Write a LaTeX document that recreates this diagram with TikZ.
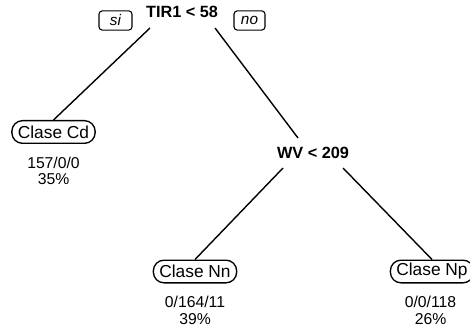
\documentclass[tikz,border=0pt]{standalone}
\usepackage{fontspec}
\setmainfont{Liberation Sans}
\begin{document}
\begin{tikzpicture}[x=0.75pt,y=-0.75pt,
  split/.style={font=\fontsize{12.2}{13}\selectfont\bfseries, inner sep=0pt},
  tag/.style={draw, line width=0.8pt, rounded corners=2.5pt, font=\fontsize{11.5}{12}\selectfont\itshape, minimum height=14.5pt, inner sep=0pt},
  leaf/.style={draw, line width=1pt, rounded corners=8pt, font=\fontsize{13}{14}\selectfont, minimum height=17pt, inner xsep=4.5pt, inner ysep=0pt},
  count/.style={font=\fontsize{11.8}{12.4}\selectfont, align=center, inner sep=0pt},
  edge/.style={line width=1.05pt}]
\useasboundingbox (0,0) rectangle (470,327);
\node[split] (root) at (182,12) {TIR1 < 58};
\node[tag, minimum width=24.75pt] (si) at (115.5,20.5) {si};
\node[tag, minimum width=23.25pt] (no) at (249.5,20.5) {no};
\node[leaf] (cd) at (53.5,132) {Clase Cd};
\node[count] (cdn) at (53.5,171) {157/0/0\\35\%};
\node[split] (wv) at (313,153) {WV < 209};
\node[leaf] (nn) at (195,271.5) {Clase Nn};
\node[count] (nnn) at (195,310.5) {0/164/11\\39\%};
\node[leaf] (np) at (432,271.5) {Clase Np};
\node[count] (npn) at (430.5,310.5) {0/0/118\\26\%};
\coordinate (r1) at (150,28);
\coordinate (r2) at (215,28);
\coordinate (wtop) at (298,138);
\coordinate (w1) at (283,168);
\coordinate (w2) at (343,168);
\draw[edge] (r1) -- (cd.north);
\draw[edge] (r2) -- (wtop);
\draw[edge] (w1) -- (nn.north);
\draw[edge] (w2) -- (np.north);
\end{tikzpicture}
\end{document}
